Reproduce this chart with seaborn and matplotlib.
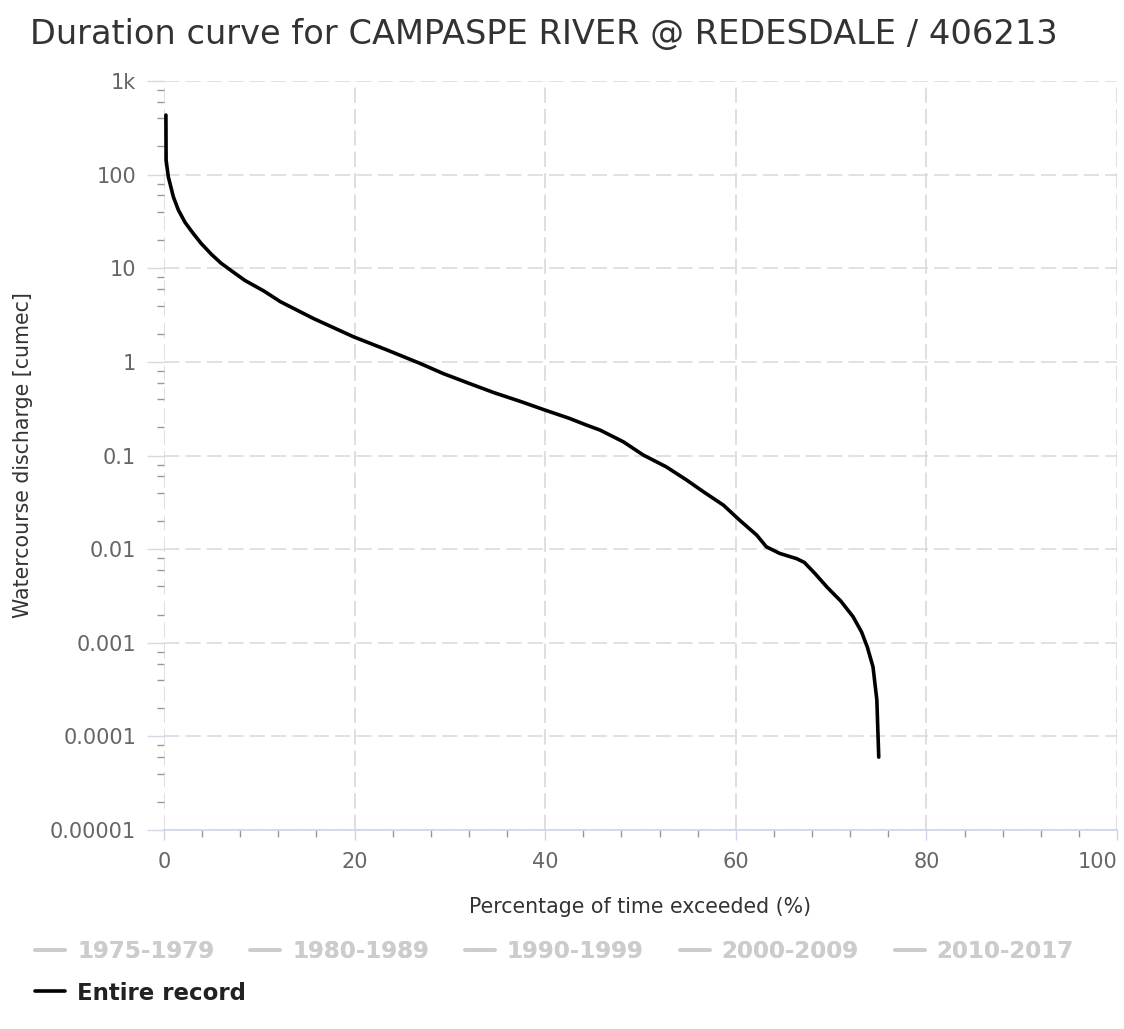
import matplotlib
matplotlib.use("Agg")
import matplotlib.pyplot as plt
from matplotlib.lines import Line2D
from matplotlib.ticker import FixedLocator, NullFormatter
import pandas as pd
import seaborn as sns

# Flow duration curve for the entire record
pct_exceeded = [0.2, 0.22, 0.45, 0.98, 1.5, 2.2, 3.0, 3.9, 5.0, 6.0, 7.2, 8.5, 10.5,
                12.2, 15.7, 19.9, 23.4, 26.9, 29.3, 32.0, 34.6, 37.5, 40.0, 42.5,
                44.4, 45.75, 48.2, 50.3, 52.7, 54.85, 56.6, 58.7, 60.4, 62.2, 63.2,
                64.6, 66.4, 67.2, 68.3, 69.6, 71.0, 72.3, 73.2, 73.8, 74.4, 74.8, 75.0]
discharge = [433, 143, 95, 58, 42, 31, 24, 18.4, 14, 11.3, 9.2, 7.4, 5.7,
             4.4, 2.9, 1.85, 1.34, 0.96, 0.75, 0.59, 0.47, 0.375, 0.305, 0.25,
             0.21, 0.187, 0.14, 0.101, 0.0757, 0.0546, 0.041, 0.0295, 0.0204,
             0.0141, 0.0106, 0.009, 0.0079, 0.0072, 0.0055, 0.0039, 0.0028,
             0.0019, 0.0013, 0.0009, 0.00055, 0.000245, 0.00006]

# Period series (hidden; listed in the legend only)
periods = ["1975-1979", "1980-1989", "1990-1999", "2000-2009", "2010-2017"]
entire_label = "Entire record"

y_ticks = [1e-5, 1e-4, 1e-3, 1e-2, 1e-1, 1, 10, 100, 1000]
y_tick_labels = ["0.00001", "0.0001", "0.001", "0.01", "0.1", "1", "10", "100", "1k"]
x_ticks = [0, 20, 40, 60, 80, 100]

title = "Duration curve for CAMPASPE RIVER @ REDESDALE / 406213"
x_label = "Percentage of time exceeded (%)"
y_label = "Watercourse discharge [cumec]"

sns.set_theme(style="white")
plt.rcParams["font.family"] = ["DejaVu Sans"]

W, H = 1124, 1029
fig = plt.figure(figsize=(W / 100, H / 100), dpi=100)
ax = fig.add_axes([164 / W, 1 - 830 / H, (1117 - 164) / W, (830 - 81) / H])

df = pd.DataFrame({"pct": pct_exceeded, "q": discharge})
sns.lineplot(data=df, x="pct", y="q", ax=ax, color="black", lw=2.6,
             estimator=None, sort=False, legend=False)
ax.lines[0].set_solid_joinstyle("round")

ax.set_yscale("log")
ax.set_xlim(0, 100)
ax.set_ylim(1e-5, 1e3)

# Major ticks
ax.yaxis.set_major_locator(FixedLocator(y_ticks))
ax.set_yticklabels(y_tick_labels)
ax.xaxis.set_major_locator(FixedLocator(x_ticks))
ax.set_xticklabels([str(v) for v in x_ticks])

# Minor ticks: 2,4,6,8 per decade on y; every 4 % on x
minor_y = [m * 10.0 ** e for e in range(-5, 3) for m in (2, 4, 6, 8)]
ax.yaxis.set_minor_locator(FixedLocator(minor_y))
ax.yaxis.set_minor_formatter(NullFormatter())
ax.xaxis.set_minor_locator(FixedLocator([v for v in range(4, 100, 4) if v % 20]))

# Dashed grid
grid_dash = (0, (10, 4))
ax.grid(False)
for y in y_ticks:
    ax.axhline(y, color="#d3d9e2", lw=1.1, ls=grid_dash, zorder=0)
for x in x_ticks:
    ax.axvline(x, color="#d6d6d6", lw=1.1, ls=grid_dash, zorder=0)

for side in ("top", "right", "left"):
    ax.spines[side].set_visible(False)
ax.spines["bottom"].set_color("#ccd6eb")
ax.spines["bottom"].set_linewidth(1.2)

ax.tick_params(axis="y", which="major", length=12, width=1, color="#d3d9e2",
               pad=8, labelsize=15, labelcolor="#666666", left=True)
ax.tick_params(axis="y", which="minor", length=5, width=1, color="#999999", left=True)
ax.tick_params(axis="x", which="major", length=7, width=1, color="#ccd6eb",
               pad=9, labelsize=15, labelcolor="#666666", bottom=True)
ax.tick_params(axis="x", which="minor", length=5, width=1, color="#999999", bottom=True)
ax.get_xticklabels()[-1].set_horizontalalignment("right")

ax.set_xlabel(x_label, fontsize=14.8, color="#333333", labelpad=18)
ax.set_ylabel(y_label, fontsize=14.8, color="#333333", labelpad=12)

fig.text(30 / W, 1 - 35 / H, title, fontsize=24.2, color="#333333",
         ha="left", va="center")

# Legend: period series greyed out, entire record active
legend_kw = dict(frameon=False, prop={"weight": "bold", "size": 16.5},
                 handlelength=1.31, handletextpad=0.52, borderaxespad=0,
                 borderpad=0, loc="center left")
period_handles = [Line2D([], [], color="#cccccc", lw=2.6) for _ in periods]
leg1 = fig.legend(period_handles, periods, bbox_to_anchor=(35 / W, 1 - 952 / H),
                  ncol=5, columnspacing=1.57, labelcolor="#cccccc", **legend_kw)
fig.add_artist(leg1)
entire_handle = [Line2D([], [], color="black", lw=2.6)]
fig.legend(entire_handle, [entire_label], bbox_to_anchor=(35 / W, 1 - 993 / H),
           labelcolor="#222222", **legend_kw)

fig.savefig("out.png", dpi=100, facecolor="white")
